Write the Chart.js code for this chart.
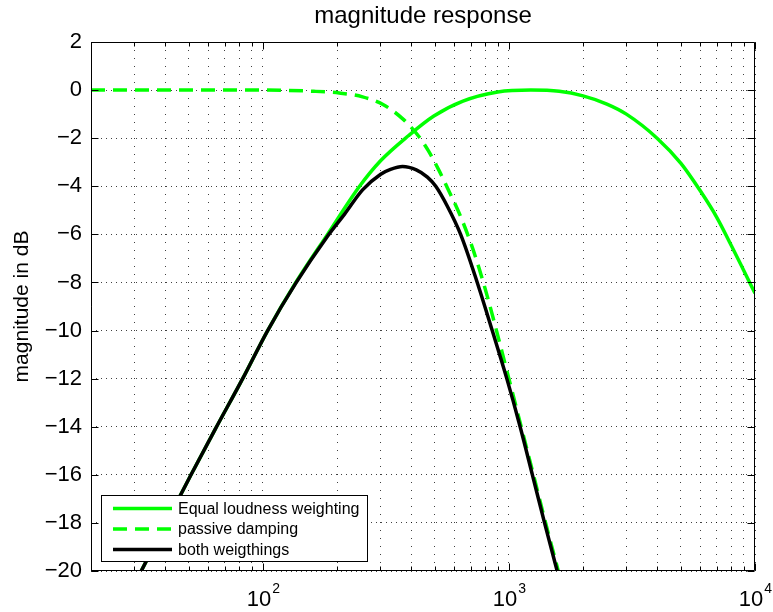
<!DOCTYPE html>
<html>
<head>
<meta charset="utf-8">
<title>magnitude response</title>
<script src="https://cdn.jsdelivr.net/npm/chart.js@4.4.1/dist/chart.umd.min.js"></script>
<style>
  html, body { margin: 0; padding: 0; background: #fff; }
  #wrap { width: 773px; height: 612px; }
</style>
</head>
<body>
<div id="wrap"><canvas id="magChart" width="773" height="612"></canvas></div>
<script>
// Equal loudness weighting (Hz / dB)
const eqFreq = [32, 51, 64, 82.7, 104.5, 136, 183, 247, 300, 390, 495, 650, 900, 1228,
                1600, 2000, 2500, 3000, 4000, 5000, 6000, 7000, 8000, 9000, 10000];
const eqDb   = [-20, -16, -14.1, -12, -10, -8, -6, -4, -2.95, -1.9, -1.08, -0.46, -0.08, 0,
                -0.05, -0.24, -0.58, -1.0, -2.0, -3.05, -4.2, -5.3, -6.45, -7.5, -8.45];

// passive damping
const dampFreq = [20, 100, 161, 204, 254, 310, 374, 431, 470, 520, 561, 636, 700, 756, 817, 881, 999, 1121, 1257, 1409, 1586];
const dampDb   = [0, 0, -0.05, -0.12, -0.28, -0.62, -1.24, -1.94, -2.52, -3.35, -4.05, -5.26, -6.37, -7.41, -8.59, -9.84, -12, -14, -16, -18, -20];

// both weightings combined
const bothFreq = [32, 51, 64, 82.7, 104.5, 136, 183, 215, 254, 301, 330, 369, 420, 466, 504, 561, 636, 743, 855, 980, 1110, 1245, 1395, 1570];
const bothDb   = [-20, -16, -14.1, -12, -10, -8.03, -6.08, -5.15, -4.15, -3.5, -3.3, -3.18, -3.32, -3.62, -4.0, -4.82, -6.0, -8.0, -10.0, -12.0, -14.0, -16.0, -18.0, -20];

const xGridValues = [20, 30, 40, 50, 60, 70, 80, 90, 100, 200, 300, 400, 500, 600, 700, 800, 900,
                     1000, 2000, 3000, 4000, 5000, 6000, 7000, 8000, 9000, 10000];
const xLabelExps = [2, 3, 4];
const yMin = -20, yMax = 2, yStep = 2;
const legendLabels = ['Equal loudness weighting', 'passive damping', 'both weigthings'];

const FONT = "'Liberation Sans', Arial, Helvetica, sans-serif";
const GREEN = '#00ff00';
const DASH = [14, 8];

Chart.defaults.font.family = FONT;
Chart.defaults.color = '#000';

const toPoints = (f, d) => f.map((x, i) => ({ x, y: d[i] }));

// box, inward tick marks, 10^n labels and the legend drawn over the plot
const framePlugin = {
    id: 'frame',
    afterDatasetsDraw(chart) {
        const { ctx, chartArea: a, scales: { x, y } } = chart;
        const L = Math.round(a.left) + 0.5, R = Math.round(a.right) - 0.5;
        const T = Math.round(a.top) + 0.5, B = Math.round(a.bottom) - 0.5;
        ctx.save();
        ctx.strokeStyle = '#000';
        ctx.lineWidth = 1;
        ctx.setLineDash([]);
        ctx.beginPath();
        ctx.rect(L, T, R - L, B - T);
        // y ticks
        for (let v = yMin; v <= yMax; v += yStep) {
            const py = Math.round(y.getPixelForValue(v)) + 0.5;
            ctx.moveTo(L, py); ctx.lineTo(L + 7, py);
            ctx.moveTo(R, py); ctx.lineTo(R - 7, py);
        }
        // x ticks, longer at decades
        xGridValues.forEach(v => {
            const px = Math.round(x.getPixelForValue(v)) + 0.5;
            const len = xLabelExps.includes(Math.round(Math.log10(v) * 1000) / 1000) ? 7 : 4;
            ctx.moveTo(px, B); ctx.lineTo(px, B - len);
            ctx.moveTo(px, T); ctx.lineTo(px, T + len);
        });
        ctx.stroke();

        // decade labels
        ctx.fillStyle = '#000';
        ctx.textBaseline = 'alphabetic';
        ctx.textAlign = 'left';
        xLabelExps.forEach(e => {
            const px = x.getPixelForValue(Math.pow(10, e));
            ctx.font = '22px ' + FONT;
            const wBase = ctx.measureText('10').width;
            ctx.font = '14px ' + FONT;
            const wExp = ctx.measureText(String(e)).width;
            const start = px - (wBase + wExp) / 2;
            ctx.font = '22px ' + FONT;
            ctx.fillText('10', start, 606);
            ctx.font = '14px ' + FONT;
            ctx.fillText(String(e), start + wBase + 1, 593);
        });

        // legend
        const box = { x: 101.5, y: 495.5, w: 266, h: 66 };
        ctx.fillStyle = '#fff';
        ctx.fillRect(box.x, box.y, box.w, box.h);
        ctx.strokeRect(box.x, box.y, box.w, box.h);
        const rows = [508.5, 529, 549.5];
        chart.data.datasets.forEach((ds, i) => {
            ctx.beginPath();
            ctx.strokeStyle = ds.borderColor;
            ctx.lineWidth = ds.borderWidth;
            ctx.setLineDash(ds.borderDash || []);
            ctx.moveTo(113, rows[i]);
            ctx.lineTo(172, rows[i]);
            ctx.stroke();
            ctx.setLineDash([]);
            ctx.fillStyle = '#000';
            ctx.font = '16px ' + FONT;
            ctx.textBaseline = 'middle';
            ctx.fillText(legendLabels[i], 178, rows[i] + 1);
        });
        ctx.restore();
    }
};

const ctx = document.getElementById('magChart').getContext('2d');
new Chart(ctx, {
    type: 'line',
    data: {
        datasets: [
            {
                label: legendLabels[0],
                data: toPoints(eqFreq, eqDb),
                borderColor: GREEN,
                borderWidth: 3.5,
                pointRadius: 0,
                cubicInterpolationMode: 'monotone',
                order: 2
            },
            {
                label: legendLabels[1],
                data: toPoints(dampFreq, dampDb),
                borderColor: GREEN,
                borderWidth: 3.5,
                borderDash: DASH,
                pointRadius: 0,
                cubicInterpolationMode: 'monotone',
                order: 1
            },
            {
                label: legendLabels[2],
                data: toPoints(bothFreq, bothDb),
                borderColor: '#000',
                borderWidth: 3.5,
                pointRadius: 0,
                cubicInterpolationMode: 'monotone',
                order: 0
            }
        ]
    },
    options: {
        responsive: false,
        animation: false,
        devicePixelRatio: 1,
        layout: { padding: { left: 0, right: 18, top: 0, bottom: 0 } },
        plugins: {
            legend: { display: false },
            tooltip: { enabled: false },
            title: {
                display: true,
                text: 'magnitude response',
                fullSize: false,
                color: '#000',
                font: { size: 24, weight: 'normal' },
                padding: { top: 2, bottom: 11.2 }
            }
        },
        scales: {
            x: {
                type: 'logarithmic',
                min: 20,
                max: 10000,
                afterBuildTicks: s => { s.ticks = xGridValues.map(v => ({ value: v })); },
                afterFit: s => { s.height = 41; },
                ticks: { display: false, autoSkip: false },
                grid: { color: 'rgba(0,0,0,0.75)', lineWidth: 1, drawTicks: false },
                border: { display: false, dash: [1, 7] }
            },
            y: {
                min: yMin,
                max: yMax,
                afterFit: s => { s.width = 91; },
                ticks: {
                    stepSize: yStep,
                    padding: 9,
                    color: '#000',
                    font: { size: 22 },
                    callback: v => (v < 0 ? '\u2212' + Math.abs(v) : String(v))
                },
                grid: { color: 'rgba(0,0,0,0.75)', lineWidth: 1, drawTicks: false },
                border: { display: false, dash: [1, 4] },
                title: {
                    display: true,
                    text: 'magnitude in dB',
                    color: '#000',
                    font: { size: 21 },
                    padding: { top: 10, bottom: 0 }
                }
            }
        }
    },
    plugins: [framePlugin]
});
</script>
</body>
</html>
